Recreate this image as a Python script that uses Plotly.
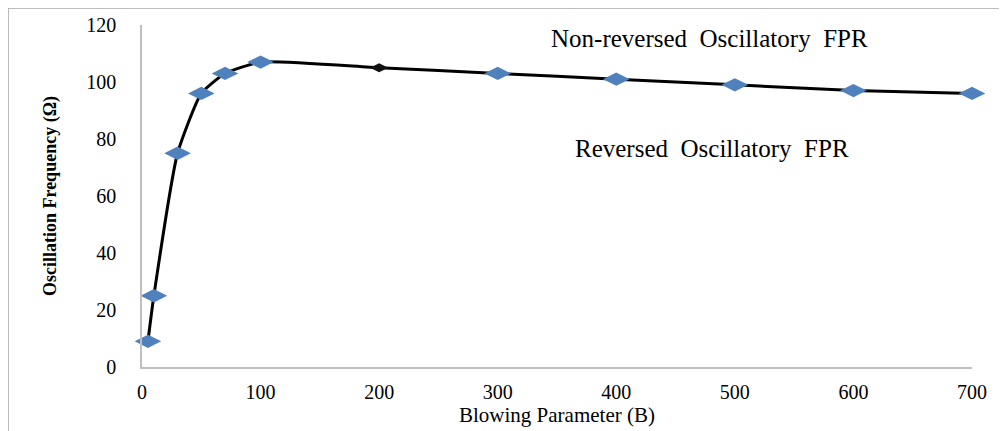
import plotly.graph_objects as go

blowing = [5, 10, 30, 50, 70, 100, 200, 300, 400, 500, 600, 700]
frequency = [9, 25, 75, 96, 103, 107, 105, 103, 101, 99, 97, 96]
x_ticks = [0, 100, 200, 300, 400, 500, 600, 700]
y_ticks = [0, 20, 40, 60, 80, 100, 120]
label_top = "Non-reversed\u00a0 Oscillatory\u00a0 FPR"
label_mid = "Reversed\u00a0 Oscillatory\u00a0 FPR"

BLUE = "#4F81BD"
marker_colors = [BLUE if b != 200 else "#111111" for b in blowing]
marker_sizes = [19 if b != 200 else 13 for b in blowing]

serif = "Liberation Serif, Times New Roman, serif"

fig = go.Figure()
fig.add_trace(go.Scatter(
    x=blowing, y=frequency, mode="lines+markers",
    line=dict(color="black", width=3, shape="spline", smoothing=0.5),
    marker=dict(symbol="diamond-wide", size=marker_sizes, color=marker_colors,
                line=dict(width=0), opacity=1),
    cliponaxis=False, showlegend=False,
))

fig.add_annotation(x=479, y=115.4, text=label_top, showarrow=False,
                   font=dict(family=serif, size=25, color="black"))
fig.add_annotation(x=481, y=76.5, text=label_mid, showarrow=False,
                   font=dict(family=serif, size=25, color="black"))

# outer frame (top and left edges)
fig.add_shape(type="line", xref="paper", yref="paper", x0=-0.1614, x1=1.06,
              y0=1.0497, y1=1.0497, line=dict(color="#A6A6A6", width=1.5))
fig.add_shape(type="line", xref="paper", yref="paper", x0=-0.1614, x1=-0.1614,
              y0=1.0497, y1=-0.22, line=dict(color="#A6A6A6", width=1.5))

fig.update_layout(
    width=1007, height=431,
    margin=dict(l=134, r=43, t=17, b=72, autoexpand=False),
    paper_bgcolor="white", plot_bgcolor="white",
    font=dict(family=serif, color="black"),
)
fig.update_xaxes(
    range=[0, 700], tickvals=x_ticks, ticktext=[str(v) for v in x_ticks],
    showgrid=False, zeroline=False, showline=True, linecolor="#BFBFBF", linewidth=1.5,
    ticks="", ticklabelstandoff=6, tickfont=dict(family=serif, size=20),
    automargin=False,
    title=dict(text="Blowing Parameter (B)", font=dict(family=serif, size=21), standoff=0),
)
fig.update_yaxes(
    range=[0, 120], tickvals=y_ticks, ticktext=[str(v) for v in y_ticks],
    showgrid=False, zeroline=False, showline=True, linecolor="#BFBFBF", linewidth=1.5,
    ticks="", ticklabelstandoff=20, tickfont=dict(family=serif, size=20),
    automargin=False,
    title=dict(text="<b>Oscillation Frequency (Ω)</b>", font=dict(family=serif, size=18), standoff=25),
)

fig.write_html("out.html")
